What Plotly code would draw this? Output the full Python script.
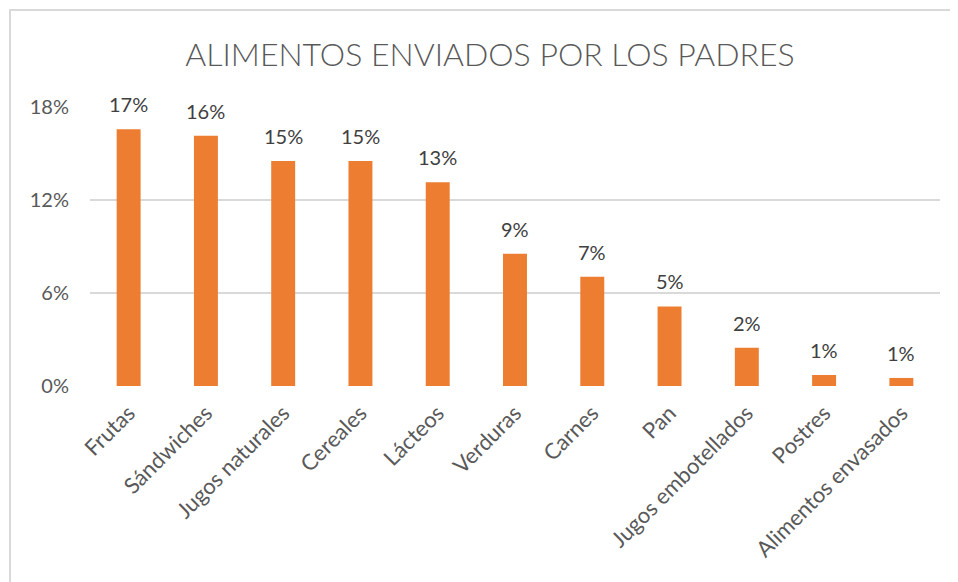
import plotly.graph_objects as go

categories = ["Frutas", "Sándwiches", "Jugos naturales", "Cereales", "Lácteos",
              "Verduras", "Carnes", "Pan", "Jugos embotellados", "Postres",
              "Alimentos envasados"]
values = [0.1657, 0.1614, 0.1452, 0.1452, 0.1315, 0.0853, 0.0705, 0.0513,
          0.0246, 0.0071, 0.0052]
ytick_vals = [0, 0.06, 0.12, 0.18]
ytick_text = ["0%", "6%", "12%", "18%"]
title_text = "ALIMENTOS ENVIADOS POR LOS PADRES"

FONT = "Lato"
GRAY = "#595959"

# page body has an 8px margin; work in page coordinates and shift
OFF = 8
W, H = 958 - OFF, 582 - OFF
L = 90 - OFF
T = 107 - OFF
R = W - (940 - OFF)
B = H - (386 - OFF)
pw, ph = W - L - R, H - T - B


def px(x):
    return (x - OFF - L) / pw


def py(y):
    return (H - B - (y - OFF)) / ph


fig = go.Figure(go.Bar(
    x=categories, y=values,
    marker=dict(color="#ED7D31", line=dict(width=0)),
    hoverinfo="x+y",
))

for c, v in zip(categories, values):
    fig.add_annotation(x=c, y=v, xref="x", yref="y", text=f"{v:.0%}",
                       showarrow=False, yanchor="bottom", yshift=11,
                       font=dict(size=20, color="#404040", family=FONT))

fig.update_layout(
    width=W, height=H,
    margin=dict(l=L, r=R, t=T, b=B, autoexpand=False),
    paper_bgcolor="white", plot_bgcolor="white",
    bargap=0.69,
    showlegend=False,
    title=dict(text=title_text, xref="paper", x=px(490), xanchor="center",
               yref="container", y=1 - (55 - OFF) / H, yanchor="middle",
               font=dict(size=32, color=GRAY, family=FONT, weight=300)),
    font=dict(family=FONT, color=GRAY),
    xaxis=dict(tickangle=-45, tickfont=dict(size=22, color=GRAY, family=FONT),
               showgrid=False, showline=False, ticks="", ticklabelstandoff=9),
    yaxis=dict(range=[0, 0.18], tickvals=ytick_vals, ticktext=ytick_text,
               tickfont=dict(size=20, color=GRAY, family=FONT),
               showgrid=True, gridcolor="#D9D9D9", gridwidth=1.5,
               zeroline=False, showline=False, ticks="", ticklabelstandoff=20),
    shapes=[dict(type="rect", xref="paper", yref="paper",
                 x0=px(10), x1=px(1000), y0=py(640), y1=py(10),
                 line=dict(color="#D9D9D9", width=2), fillcolor="rgba(0,0,0,0)",
                 layer="below")],
)

fig.write_html("out.html")
